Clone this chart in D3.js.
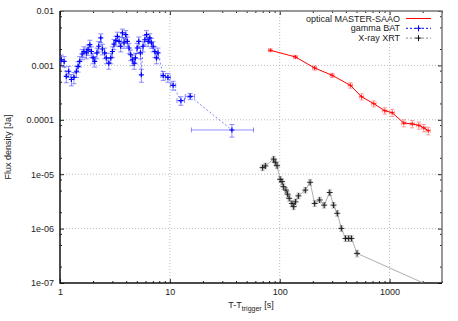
<!DOCTYPE html>
<html>
<head>
<meta charset="utf-8">
<script src="https://cdn.jsdelivr.net/npm/d3@7"></script>
<style>
    body { margin: 0; background: #fff; }
    svg { display: block; font-family: 'Liberation Sans', Arial, sans-serif; }
</style>
</head>
<body>
<svg id="chart" width="458" height="321"></svg>
<script>
// gamma BAT, dense part (flux in mJy)
const batTime = [1.03, 1.09, 1.14, 1.2, 1.27, 1.34, 1.41, 1.46, 1.51, 1.59, 1.65, 1.74, 1.8, 1.87, 1.93,
    2.0, 2.07, 2.17, 2.25, 2.35, 2.43, 2.55, 2.64, 2.78, 2.9, 3.0, 3.1, 3.22, 3.33, 3.45, 3.57, 3.7,
    3.83, 3.97, 4.1, 4.25, 4.4, 4.56, 4.73, 4.86, 5.04, 5.21, 5.4, 5.5, 5.7, 5.92, 6.13, 6.35, 6.57,
    6.8, 7.04, 7.3, 7.55, 7.8]
const batFlux = [1.27, 1.19, 0.63, 0.78, 0.55, 0.6, 0.78, 0.96, 1.19, 1.62, 1.8, 1.7, 1.95, 2.4, 1.8,
    1.37, 1.19, 1.7, 2.25, 3.2, 2.0, 1.7, 1.37, 1.1, 1.37, 1.8, 2.47, 2.85, 3.43, 2.77, 2.25, 3.95,
    2.6, 3.67, 2.77, 2.09, 1.57, 1.27, 1.1, 1.37, 2.09, 2.77, 1.7, 0.67, 2.25, 2.96, 3.67, 2.77, 3.2,
    2.6, 2.25, 1.8, 1.37, 1.7]
const batErr = [0.28, 0.26, 0.15, 0.18, 0.13, 0.14, 0.18, 0.21, 0.26, 0.35, 0.4, 0.38, 0.42, 0.5, 0.4,
    0.3, 0.26, 0.38, 0.48, 0.6, 0.44, 0.38, 0.3, 0.25, 0.3, 0.4, 0.52, 0.58, 0.65, 0.56, 0.48, 0.7,
    0.54, 0.68, 0.56, 0.45, 0.35, 0.28, 0.25, 0.3, 0.45, 0.56, 0.38, 0.18, 0.48, 0.6, 0.68, 0.56, 0.62,
    0.54, 0.48, 0.4, 0.3, 0.38]

// gamma BAT, binned tail (mJy)
const batTailTime = [8.7, 9.6, 10.7, 12.6, 15.3, 36.7]
const batTailTimeErr = [0.4, 0.5, 0.6, 1.0, 1.5, 21]
const batTailFlux = [0.65, 0.6, 0.43, 0.225, 0.27, 0.065]
const batTailErr = [0.12, 0.11, 0.08, 0.04, 0.035, 0.017]

// X-ray XRT (Jy)
const xrtTime = [69.8, 74, 88, 91, 94.6, 101, 105, 108, 114, 118, 122, 129, 134, 139, 148, 171, 189,
    208, 231, 254, 285, 309, 334, 364, 397, 424, 450, 506, 2600]
const xrtTimeErr = [2, 2, 2.5, 2.5, 2.5, 2.5, 2.5, 3, 3, 3, 3, 3, 3, 3.5, 4, 4.5, 5,
    5, 6, 6.5, 7, 8, 8, 9, 9, 9, 10, 14, 60]
const xrtFlux = [1.32e-5, 1.42e-5, 1.9e-5, 1.66e-5, 1.43e-5, 8.05e-6, 7.3e-6, 5.9e-6, 5.1e-6, 4.3e-6,
    3.6e-6, 2.9e-6, 2.53e-6, 3.1e-6, 4.0e-6, 5.1e-6, 7.1e-6, 2.9e-6, 3.36e-6, 2.7e-6, 4.6e-6,
    2.7e-6, 1.91e-6, 1.01e-6, 6.6e-7, 6.6e-7, 6.6e-7, 3.5e-7, 8e-8]
const xrtErr = [1.6e-6, 1.7e-6, 2.3e-6, 2e-6, 1.7e-6, 1e-6, 9e-7, 7e-7, 6e-7, 5e-7, 4.3e-7, 3.5e-7,
    3e-7, 3.7e-7, 4.8e-7, 6e-7, 8.5e-7, 3.5e-7, 4e-7, 3.2e-7, 5.5e-7, 3.2e-7, 2.3e-7, 1.2e-7,
    8e-8, 8e-8, 8e-8, 5e-8, 1e-8]

// optical MASTER-SAAO (Jy)
const optTime = [82, 139, 208, 300, 440, 555, 718, 904, 1056, 1348, 1607, 1846, 2050, 2249]
const optTimeErr = [3, 6, 9, 13, 20, 25, 35, 45, 50, 60, 70, 80, 90, 100]
const optFlux = [1.9e-3, 1.43e-3, 8.96e-4, 6.58e-4, 4.3e-4, 2.66e-4, 1.98e-4, 1.47e-4, 1.35e-4,
    8.7e-5, 8.4e-5, 7.9e-5, 7.1e-5, 6.3e-5]
const optErr = [1e-4, 1e-4, 8e-5, 6e-5, 5e-5, 3.5e-5, 2.5e-5, 2e-5, 2e-5, 1.3e-5, 1.3e-5, 1.2e-5,
    1.1e-5, 1e-5]

const xTicks = [1, 10, 100, 1000]
const yTicks = [1e-2, 1e-3, 1e-4, 1e-5, 1e-6, 1e-7]
const yTickLabels = ['0.01', '0.001', '0.0001', '1e-05', '1e-06', '1e-07']
const legendLabels = ['optical MASTER-SAAO', 'gamma BAT', 'X-ray XRT']

const svg = d3.select('#chart')
const plotLeft = 60, plotRight = 442, plotTop = 11, plotBottom = 283
const fontSize = '9px'

const xScale = d3.scaleLog().domain([1, 3000]).range([plotLeft, plotRight])
const yScale = d3.scaleLog().domain([1e-7, 0.01]).range([plotBottom, plotTop])

const minorX = []
for (let d = 1; d <= 1000; d *= 10) {
    for (let m = 2; m <= 9; m++) if (d * m <= 3000) minorX.push(d * m)
}
const minorY = []
for (let d = 1e-7; d < 0.009; d *= 10) {
    [2, 5, 8].forEach((m) => minorY.push(d * m))
}

// grid
const grid = svg.append('g')
grid.selectAll('.gx')
    .data(xTicks.slice(1))
    .join('line')
    .attr('class', 'gx')
    .attr('x1', (d) => xScale(d)).attr('x2', (d) => xScale(d))
    .attr('y1', plotTop).attr('y2', plotBottom)
grid.selectAll('.gy')
    .data(yTicks.slice(1, -1))
    .join('line')
    .attr('class', 'gy')
    .attr('x1', plotLeft).attr('x2', plotRight)
    .attr('y1', (d) => yScale(d)).attr('y2', (d) => yScale(d))
grid.selectAll('line')
    .attr('stroke', '#aaa')
    .attr('stroke-width', 0.8)
    .attr('stroke-dasharray', '1,2')

// axes with inward ticks, mirrored
const styleAxis = (g) => {
    g.select('.domain').remove()
    g.selectAll('.tick line').attr('stroke', '#222')
    g.selectAll('.tick text').attr('fill', '#222').style('font-size', fontSize)
}
svg.append('g').attr('transform', `translate(0,${plotBottom})`)
    .call(d3.axisBottom(xScale).tickValues(xTicks).tickFormat(d3.format('d')).tickSize(-4).tickPadding(6))
    .call(styleAxis)
svg.append('g').attr('transform', `translate(0,${plotBottom})`)
    .call(d3.axisBottom(xScale).tickValues(minorX).tickFormat('').tickSize(-2))
    .call(styleAxis)
svg.append('g').attr('transform', `translate(0,${plotTop})`)
    .call(d3.axisTop(xScale).tickValues(xTicks).tickFormat('').tickSize(-4))
    .call(styleAxis)
svg.append('g').attr('transform', `translate(0,${plotTop})`)
    .call(d3.axisTop(xScale).tickValues(minorX).tickFormat('').tickSize(-2))
    .call(styleAxis)
svg.append('g').attr('transform', `translate(${plotLeft},0)`)
    .call(d3.axisLeft(yScale).tickValues(yTicks).tickFormat((d, i) => yTickLabels[i]).tickSize(-4).tickPadding(6))
    .call(styleAxis)
svg.append('g').attr('transform', `translate(${plotLeft},0)`)
    .call(d3.axisLeft(yScale).tickValues(minorY).tickFormat('').tickSize(-2))
    .call(styleAxis)
svg.append('g').attr('transform', `translate(${plotRight},0)`)
    .call(d3.axisRight(yScale).tickValues(yTicks).tickFormat('').tickSize(-4))
    .call(styleAxis)
svg.append('g').attr('transform', `translate(${plotRight},0)`)
    .call(d3.axisRight(yScale).tickValues(minorY).tickFormat('').tickSize(-2))
    .call(styleAxis)

// border
svg.append('path')
    .attr('d', `M${plotLeft},${plotTop}H${plotRight}V${plotBottom}`)
    .attr('fill', 'none').attr('stroke', '#777').attr('stroke-width', 1.5)
svg.append('path')
    .attr('d', `M${plotLeft},${plotTop}V${plotBottom}H${plotRight}`)
    .attr('fill', 'none').attr('stroke', '#111').attr('stroke-width', 1.5)

svg.append('clipPath').attr('id', 'plot-clip')
    .append('rect')
    .attr('x', plotLeft).attr('y', plotTop)
    .attr('width', plotRight - plotLeft).attr('height', plotBottom - plotTop)

const content = svg.append('g').attr('clip-path', 'url(#plot-clip)')

const line = d3.line().x((d) => xScale(d.t)).y((d) => yScale(d.f))

const drawErrors = (data, color, cap, opacity, dash) => {
    const g = content.append('g')
        .attr('stroke', color)
        .attr('stroke-width', 0.8)
        .attr('stroke-opacity', opacity)
        .attr('stroke-dasharray', dash)
        .attr('fill', 'none')
    g.selectAll('path')
        .data(data)
        .join('path')
        .attr('d', (d) => {
            const cx = xScale(d.t), cy = yScale(d.f)
            const y0 = yScale(Math.max(d.f - d.e, 1e-9)), y1 = yScale(d.f + d.e)
            let p = `M${cx},${y0}V${y1}M${cx - cap},${y0}H${cx + cap}M${cx - cap},${y1}H${cx + cap}`
            if (d.te) {
                const x0 = xScale(d.t - d.te), x1 = xScale(d.t + d.te)
                p += `M${x0},${cy}H${x1}M${x0},${cy - cap}V${cy + cap}M${x1},${cy - cap}V${cy + cap}`
            }
            return p
        })
}

const drawPlus = (data, color, size, width) => {
    content.append('g')
        .selectAll('path')
        .data(data)
        .join('path')
        .attr('d', (d) => {
            const cx = xScale(d.t), cy = yScale(d.f)
            return `M${cx - size},${cy}H${cx + size}M${cx},${cy - size}V${cy + size}`
        })
        .attr('stroke', color)
        .attr('stroke-width', width)
}

// optical
const optData = optTime.map((t, i) => ({ t, f: optFlux[i], e: optErr[i], te: optTimeErr[i] }))
drawErrors(optData, '#ff0000', 2, 0.45, null)
content.append('path').datum(optData)
    .attr('d', line).attr('fill', 'none')
    .attr('stroke', '#ff0000').attr('stroke-width', 1)
drawPlus(optData, '#ff0000', 2, 0.8)

// gamma BAT
const batData = batTime.map((t, i) => ({ t, f: batFlux[i] * 1e-3, e: batErr[i] * 1e-3, te: 0 }))
    .concat(batTailTime.map((t, i) => ({
        t, f: batTailFlux[i] * 1e-3, e: batTailErr[i] * 1e-3, te: batTailTimeErr[i],
    })))
content.append('path').datum(batData)
    .attr('d', line).attr('fill', 'none')
    .attr('stroke', '#0000ff').attr('stroke-opacity', 0.55)
    .attr('stroke-width', 0.9).attr('stroke-dasharray', '2,2')
drawErrors(batData, '#0000ff', 2.5, 0.55, null)
drawPlus(batData, '#0000ff', 2.5, 1.2)

// X-ray XRT
const xrtData = xrtTime.map((t, i) => ({ t, f: xrtFlux[i], e: xrtErr[i], te: xrtTimeErr[i] }))
content.append('path').datum(xrtData)
    .attr('d', line).attr('fill', 'none')
    .attr('stroke', '#999').attr('stroke-width', 0.8)
drawErrors(xrtData, '#666', 2, 0.6, '1.5,1')
drawPlus(xrtData, '#111', 3, 0.9)

// axis labels
svg.append('text')
    .attr('transform', `translate(8,${(plotTop + plotBottom) / 2}) rotate(-90)`)
    .attr('text-anchor', 'middle')
    .attr('dy', '0.35em')
    .style('font-size', fontSize)
    .attr('fill', '#222')
    .text('Flux density [Ja]')

const xLabel = svg.append('text')
    .attr('x', (plotLeft + plotRight) / 2)
    .attr('y', 307.5)
    .attr('text-anchor', 'middle')
    .style('font-size', fontSize)
    .attr('fill', '#222')
xLabel.append('tspan').text('T-T')
xLabel.append('tspan').attr('dy', 3).style('font-size', '7px').text('trigger')
xLabel.append('tspan').attr('dy', -3).text(' [s]')

// legend
const legend = svg.append('g')
const rowY = [18.5, 28.3, 38.1]
legend.selectAll('text')
    .data(legendLabels)
    .join('text')
    .attr('x', 400)
    .attr('y', (d, i) => rowY[i])
    .attr('dy', '0.35em')
    .attr('text-anchor', 'end')
    .style('font-size', fontSize)
    .attr('fill', '#222')
    .text((d) => d)
const sampleStyle = [
    { color: '#ff0000', dash: null, plus: null },
    { color: '#0000ff', dash: '2,2', plus: '#0000ff' },
    { color: '#888', dash: '2,2', plus: '#111' },
]
sampleStyle.forEach((s, i) => {
    legend.append('line')
        .attr('x1', 406).attr('x2', 431)
        .attr('y1', rowY[i]).attr('y2', rowY[i])
        .attr('stroke', s.color).attr('stroke-width', 1)
        .attr('stroke-dasharray', s.dash)
    if (s.plus) {
        legend.append('path')
            .attr('d', `M${415.5},${rowY[i]}h6M${418.5},${rowY[i] - 3}v6`)
            .attr('stroke', s.plus).attr('stroke-width', 1)
    }
})
</script>
</body>
</html>
